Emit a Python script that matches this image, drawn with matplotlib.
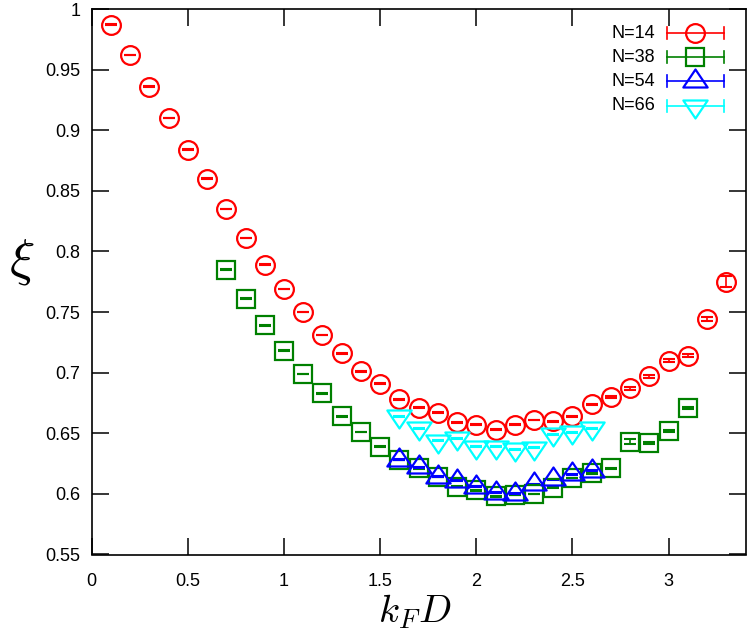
import numpy as np
import matplotlib
matplotlib.use("Agg")
import matplotlib.pyplot as plt
from matplotlib.path import Path

plt.rcParams['font.family'] = ['Liberation Sans', 'DejaVu Sans']
plt.rcParams['mathtext.fontset'] = 'cm'

# ---- data ----
x14 = [0.1, 0.2, 0.3, 0.4, 0.5, 0.6, 0.7, 0.8, 0.9, 1.0, 1.1, 1.2, 1.3, 1.4, 1.5,
       1.6, 1.7, 1.8, 1.9, 2.0, 2.1, 2.2, 2.3, 2.4, 2.5, 2.6, 2.7, 2.8, 2.9, 3.0,
       3.1, 3.2, 3.3]
y14 = [0.987, 0.962, 0.936, 0.910, 0.884, 0.860, 0.835, 0.811, 0.789, 0.769,
       0.750, 0.731, 0.716, 0.701, 0.691, 0.678, 0.671, 0.667, 0.659, 0.657,
       0.653, 0.657, 0.661, 0.660, 0.664, 0.674, 0.680, 0.687, 0.697, 0.710,
       0.714, 0.744, 0.775]
e14 = [0.0003] * 26 + [0.0006, 0.0010, 0.0012, 0.0013, 0.0012, 0.0017, 0.0045]

x38 = [0.7, 0.8, 0.9, 1.0, 1.1, 1.2, 1.3, 1.4, 1.5, 1.6, 1.7, 1.8, 1.9, 2.0,
       2.1, 2.2, 2.3, 2.4, 2.5, 2.6, 2.7, 2.8, 2.9, 3.0, 3.1]
y38 = [0.785, 0.761, 0.739, 0.718, 0.699, 0.683, 0.664, 0.651, 0.639, 0.628,
       0.621, 0.614, 0.606, 0.603, 0.598, 0.599, 0.600, 0.605, 0.613, 0.617,
       0.621, 0.643, 0.642, 0.652, 0.671]
e38 = [0.0003] * 21 + [0.0020, 0.0012, 0.0009, 0.0009]

x54 = [1.6, 1.7, 1.8, 1.9, 2.0, 2.1, 2.2, 2.3, 2.4, 2.5, 2.6]
y54 = [0.628, 0.622, 0.614, 0.611, 0.606, 0.601, 0.600, 0.608, 0.612, 0.616, 0.619]
e54 = [0.0004] * 11

x66 = [1.6, 1.7, 1.8, 1.9, 2.0, 2.1, 2.2, 2.3, 2.4, 2.5, 2.6]
y66 = [0.664, 0.654, 0.644, 0.646, 0.639, 0.639, 0.637, 0.638, 0.649, 0.651, 0.654]
e66 = [0.0004] * 11

labels = ['N=14', 'N=38', 'N=54', 'N=66']
colors = ['#ff0000', '#008000', '#0000ff', '#00ffff']

xticks = [0, 0.5, 1, 1.5, 2, 2.5, 3]
xticklabels = ['0', '0.5', '1', '1.5', '2', '2.5', '3']
yticks = [0.55, 0.6, 0.65, 0.7, 0.75, 0.8, 0.85, 0.9, 0.95, 1.0]
yticklabels = ['0.55', '0.6', '0.65', '0.7', '0.75', '0.8', '0.85', '0.9', '0.95', '1']

# ---- markers ----
tri_up = Path([(-2.025, -1.0), (2.025, -1.0), (0.0, 2.0), (-2.025, -1.0)],
              [Path.MOVETO, Path.LINETO, Path.LINETO, Path.CLOSEPOLY])
tri_dn = Path([(-2.025, 1.0), (2.025, 1.0), (0.0, -2.0), (-2.025, 1.0)],
              [Path.MOVETO, Path.LINETO, Path.LINETO, Path.CLOSEPOLY])
markers = ['o', 's', tri_up, tri_dn]
msizes = [13.5, 12.5, 17.5, 17.5]

fig = plt.figure(figsize=(7.47, 6.33), dpi=100)
ax = fig.add_axes([91.7 / 747, 1 - 554.5 / 633, (745.5 - 91.7) / 747, (554.5 - 9) / 633])

series = [(x14, y14, e14), (x38, y38, e38), (x54, y54, e54), (x66, y66, e66)]
for (xs, ys, es), c, m, ms in zip(series, colors, markers, msizes):
    ax.errorbar(xs, ys, yerr=es, fmt='none', ecolor=c, elinewidth=1.2,
                capsize=4.5, capthick=1.5, zorder=3)
    ax.plot(xs, ys, linestyle='none', marker=m, markersize=ms,
            markerfacecolor='none', markeredgecolor=c, markeredgewidth=1.6, zorder=4)

ax.set_xlim(0, 3.4)
ax.set_ylim(0.55, 1.0)
ax.set_xticks(xticks)
ax.set_xticklabels(xticklabels)
ax.set_yticks(yticks)
ax.set_yticklabels(yticklabels)
ax.tick_params(direction='in', length=12, width=1.1, top=True, right=True,
               labelsize=13, colors='black')
ax.tick_params(axis='x', pad=13)
ax.tick_params(axis='y', pad=8)
for s in ax.spines.values():
    s.set_linewidth(1.2)

fig.text(415 / 747, 1 - 612 / 633, r'$k_F D$', fontsize=28, ha='center', va='center')
fig.text(22 / 747, 1 - 262 / 633, r'$\xi$', fontsize=38, ha='center', va='center')

# ---- legend (gnuplot style) ----
rows_y = [33, 57, 81, 106]
for lab, c, m, ms, ry in zip(labels, colors, markers, msizes, rows_y):
    yy = 1 - ry / 633
    x0, x1, xm = 667 / 747, 724 / 747, 695 / 747
    fig.text(655 / 747, yy, lab, fontsize=13, ha='right', va='center')
    fig.add_artist(plt.Line2D([x0, x1], [yy, yy], color=c, lw=1.2, transform=fig.transFigure))
    for xe in (x0, x1):
        fig.add_artist(plt.Line2D([xe, xe], [yy - 6 / 633, yy + 6 / 633], color=c, lw=1.2,
                                  transform=fig.transFigure))
    fig.add_artist(plt.Line2D([xm], [yy], marker=m, markersize=ms, markerfacecolor='none',
                              markeredgecolor=c, markeredgewidth=1.6, linestyle='none',
                              transform=fig.transFigure))

fig.savefig('out.png', dpi=100)
